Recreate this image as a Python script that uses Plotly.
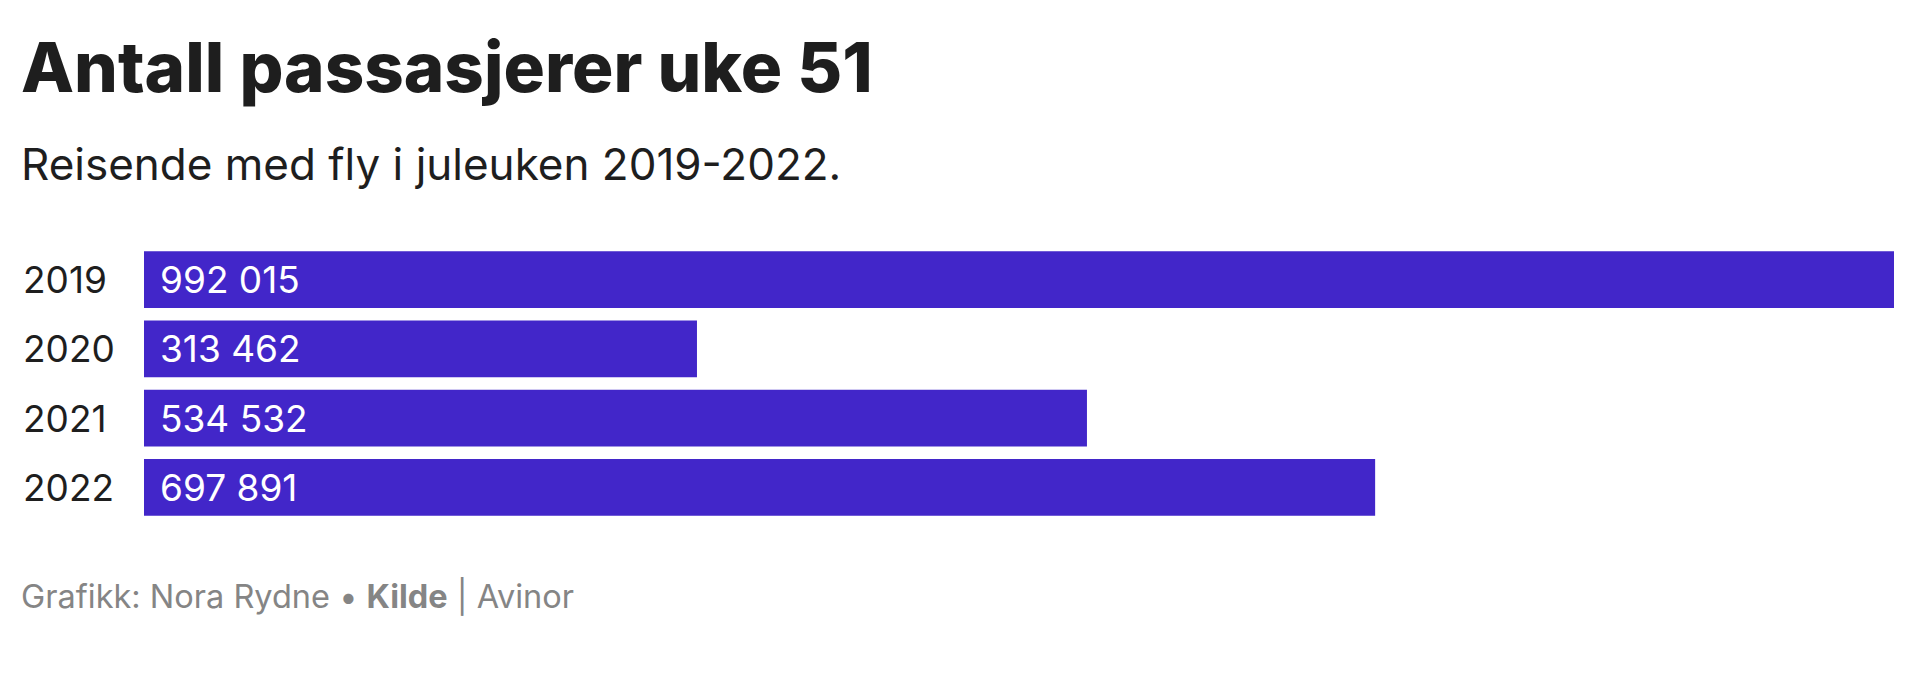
import plotly.graph_objects as go

years = ["2019", "2020", "2021", "2022"]
passengers = [992015, 313462, 534532, 697891]
title_text = "Antall passasjerer uke 51"
subtitle_text = "Reisende med fly i juleuken 2019-2022."
credit_text = "Grafikk: Nora Rydne • <b>Kilde</b> | Avinor"

W, H = 1920, 678
L, R, T, B = 144, 26, 244.5, 156
FONT = "Inter"
DARK = "#1e1e1e"
BAR = "#4226c9"


def px_x(px):
    return (px - L) / (W - L - R)


def px_y(py):
    return (H - B - py) / (H - T - B)


def fmt(v):
    return f"{v:,}".replace(",", " ")


fig = go.Figure(
    go.Bar(
        x=passengers,
        y=years,
        orientation="h",
        marker=dict(color=BAR, line=dict(width=0)),
        hoverinfo="skip",
    )
)

annotations = []
annotations.append(dict(text=title_text, xref="paper", yref="paper", x=px_x(19), y=px_y(66),
                        xanchor="left", yanchor="middle", showarrow=False,
                        font=dict(family=FONT, size=69, color=DARK, weight=800)))
annotations.append(dict(text=subtitle_text, xref="paper", yref="paper", x=px_x(19), y=px_y(163),
                        xanchor="left", yanchor="middle", showarrow=False,
                        font=dict(family=FONT, size=44, color=DARK)))
annotations.append(dict(text=credit_text, xref="paper", yref="paper", x=px_x(19), y=px_y(597),
                        xanchor="left", yanchor="middle", showarrow=False,
                        font=dict(family=FONT, size=32.5, color="#858585")))
for i, (yr, v) in enumerate(zip(years, passengers)):
    annotations.append(dict(text=yr, xref="paper", yref="y", x=px_x(21), y=i,
                            xanchor="left", yanchor="middle", showarrow=False,
                            font=dict(family=FONT, size=37, color=DARK)))
    annotations.append(dict(text=fmt(v), xref="x", yref="y", x=0, y=i, xshift=14,
                            xanchor="left", yanchor="middle", showarrow=False,
                            font=dict(family=FONT, size=37, color="white")))

fig.update_layout(
    width=W, height=H,
    margin=dict(l=L, r=R, t=T, b=B),
    paper_bgcolor="white", plot_bgcolor="white",
    bargap=0.178,
    showlegend=False,
    xaxis=dict(range=[0, max(passengers)], visible=False, fixedrange=True),
    yaxis=dict(type="category", categoryorder="array", categoryarray=years,
               range=[len(years) - 0.5, -0.5], autorange=False,
               showticklabels=False, showgrid=False, zeroline=False, fixedrange=True),
    annotations=annotations,
)

fig.write_html("out.html", config={"displayModeBar": False})
